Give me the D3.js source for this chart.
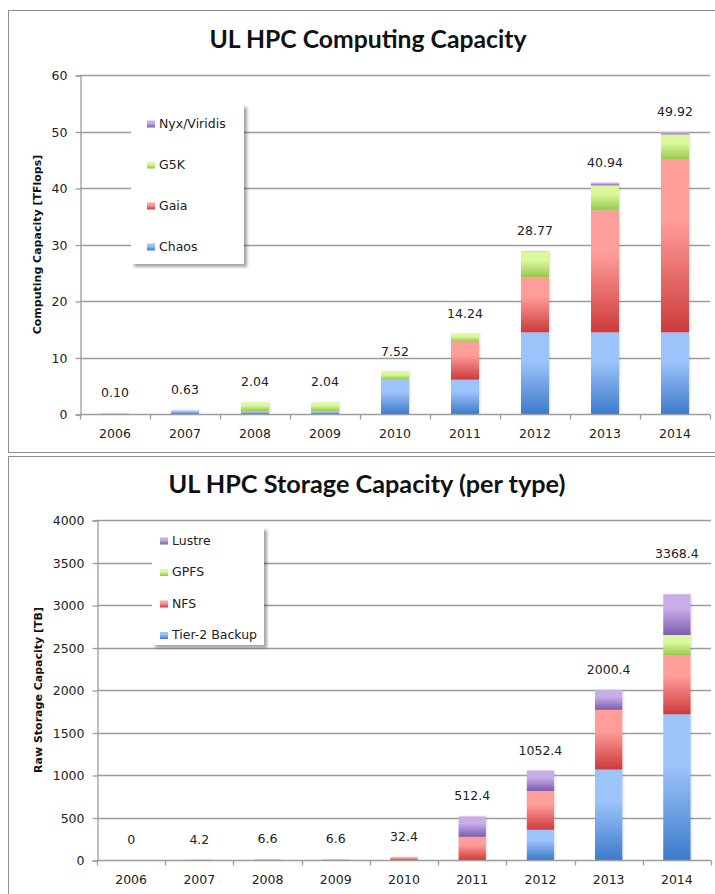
<!DOCTYPE html>
<html>
<head>
<meta charset="utf-8">
<script src="https://cdn.jsdelivr.net/npm/d3@7"></script>
<style>
  body { margin: 0; background: #fff; }
  svg { display: block; }
</style>
</head>
<body>
<svg id="chart" width="715" height="894"></svg>
<script>
// ---- Data -------------------------------------------------------------
const years = ["2006", "2007", "2008", "2009", "2010", "2011", "2012", "2013", "2014"];

// Computing capacity per cluster [TFlops]
const chaos = [0.10, 0.63, 0.50, 0.50, 6.08, 6.08, 14.45, 14.45, 14.45];
const gaia  = [0, 0, 0, 0, 0, 6.72, 9.78, 21.60, 30.55];
const g5k   = [0, 0, 1.54, 1.54, 1.44, 1.44, 4.44, 4.42, 4.50];
const nyx   = [0, 0, 0, 0, 0, 0, 0.10, 0.47, 0.42];
const computeTotals = [0.10, 0.63, 2.04, 2.04, 7.52, 14.24, 28.77, 40.94, 49.92];
const computeTotalLabels = ["0.10", "0.63", "2.04", "2.04", "7.52", "14.24", "28.77", "40.94", "49.92"];
const computeTicks = [0, 10, 20, 30, 40, 50, 60];

// Raw storage capacity per type [TB]
const tier2  = [0, 0, 0, 0, 0, 0, 356, 1064, 1714];
const nfs    = [0, 4.2, 6.6, 6.6, 32.4, 272.4, 456.4, 702.4, 690];
const gpfs   = [0, 0, 0, 0, 0, 0, 0, 0, 243];
const lustre = [0, 0, 0, 0, 0, 240, 240, 234, 479];
const storageTotals = [0, 4.2, 6.6, 6.6, 32.4, 512.4, 1052.4, 2000.4, 3368.4];
const storageTotalLabels = ["0", "4.2", "6.6", "6.6", "32.4", "512.4", "1052.4", "2000.4", "3368.4"];
const storageTicks = [0, 500, 1000, 1500, 2000, 2500, 3000, 3500, 4000];

// ---- Shared styling ---------------------------------------------------
const palette = {
  blue:   ["#9dc3fb", "#3c7bcb"],
  red:    ["#ff9d9a", "#cc3b3a"],
  green:  ["#dbf89d", "#96c74b"],
  purple: ["#c9ade9", "#7c5cad"]
};

const svg = d3.select("#chart");
const defs = svg.append("defs");

Object.entries(palette).forEach(([name, [light, dark]]) => {
  const g = defs.append("linearGradient")
    .attr("id", "grad-" + name)
    .attr("x1", 0).attr("y1", 0).attr("x2", 0).attr("y2", 1);
  g.append("stop").attr("offset", "0%").attr("stop-color", light);
  g.append("stop").attr("offset", "35%").attr("stop-color", light);
  g.append("stop").attr("offset", "100%").attr("stop-color", dark);
});

const legendShadow = defs.append("filter").attr("id", "legend-shadow")
  .attr("x", "-10%").attr("y", "-10%").attr("width", "130%").attr("height", "130%");
legendShadow.append("feDropShadow")
  .attr("dx", 3).attr("dy", 3).attr("stdDeviation", 1.8)
  .attr("flood-color", "#000").attr("flood-opacity", 0.35);

const barShadow = defs.append("filter").attr("id", "bar-shadow")
  .attr("x", "-30%").attr("y", "-5%").attr("width", "160%").attr("height", "110%");
barShadow.append("feDropShadow")
  .attr("dx", 1).attr("dy", 0).attr("stdDeviation", 0.8)
  .attr("flood-color", "#000").attr("flood-opacity", 0.15);

const textFont = "'DejaVu Sans', Verdana, sans-serif";
const titleFont = "Lato, 'Open Sans', sans-serif";
const labelSize = 12.5;

// ---- Chart drawing ----------------------------------------------------
function drawChart(cfg) {
  const g = svg.append("g");

  // outer frame
  g.append("rect")
    .attr("x", cfg.frame[0] + 0.5).attr("y", cfg.frame[1] + 0.5)
    .attr("width", cfg.frame[2]).attr("height", cfg.frame[3])
    .attr("fill", "#fff").attr("stroke", "#8e8e8e").attr("stroke-width", 1);

  // title, fitted to its measured width
  const title = g.append("text")
    .attr("x", cfg.titleX).attr("y", cfg.titleY)
    .attr("text-anchor", "middle")
    .attr("font-family", titleFont).attr("font-weight", 700)
    .attr("font-size", 25).attr("fill", "#111")
    .text(cfg.title);
  const w = title.node().getComputedTextLength();
  title.attr("font-size", 25 * cfg.titleWidth / w);

  const x = d3.scaleBand().domain(years)
    .range([cfg.left, cfg.right]).paddingInner(0.6).paddingOuter(0.3);
  const y = d3.scaleLinear().domain([0, d3.max(cfg.ticks)])
    .range([cfg.bottom, cfg.top]);

  // horizontal gridlines
  g.append("g").selectAll("line").data(cfg.ticks.filter(t => t > 0)).join("line")
    .attr("x1", cfg.left).attr("x2", cfg.right)
    .attr("y1", d => Math.round(y(d)) + 0.5).attr("y2", d => Math.round(y(d)) + 0.5)
    .attr("stroke", "#9c9c9c").attr("stroke-width", 1.3);

  // y axis
  const yAxis = g.append("g")
    .attr("transform", `translate(${cfg.left + 0.5},0.5)`)
    .call(d3.axisLeft(y).tickValues(cfg.ticks).tickSize(5).tickPadding(8)
      .tickFormat(d3.format("d")));
  yAxis.select(".domain").attr("stroke", "#9c9c9c").attr("stroke-width", 1.3);
  yAxis.selectAll(".tick line").attr("stroke", "#9c9c9c").attr("stroke-width", 1.3);
  yAxis.selectAll(".tick text")
    .attr("font-family", textFont).attr("font-size", labelSize).attr("fill", "#222");

  // y axis title
  g.append("text")
    .attr("transform", `translate(${cfg.axisTitleX},${(cfg.top + cfg.bottom) / 2}) rotate(-90)`)
    .attr("text-anchor", "middle").attr("dominant-baseline", "middle")
    .attr("font-family", textFont).attr("font-weight", 700).attr("font-size", 11)
    .attr("fill", "#111")
    .text(cfg.yLabel);

  // stacked bars
  const rows = years.map((yr, i) => {
    const r = { year: yr };
    cfg.series.forEach(s => { r[s.key] = s.values[i]; });
    return r;
  });
  const stack = d3.stack().keys(cfg.series.map(s => s.key))(rows);
  const bars = g.append("g").attr("filter", "url(#bar-shadow)");
  stack.forEach((layer, li) => {
    const s = cfg.series[li];
    bars.append("g").selectAll("rect").data(layer.filter(d => d[1] - d[0] > 0)).join("rect")
      .attr("x", d => x(d.data.year))
      .attr("width", x.bandwidth())
      .attr("y", d => y(d[1]))
      .attr("height", d => y(d[0]) - y(d[1]))
      .attr("fill", `url(#grad-${s.color})`);
  });

  // x axis: labels centred in bands, ticks at band boundaries
  const xAxis = g.append("g")
    .attr("transform", `translate(0,${cfg.bottom + 0.5})`);
  xAxis.append("line")
    .attr("x1", cfg.left).attr("x2", cfg.right)
    .attr("stroke", "#9c9c9c").attr("stroke-width", 1.3);
  const bounds = d3.range(years.length + 1).map(i => cfg.left + i * x.step());
  xAxis.selectAll(".bound").data(bounds).join("line")
    .attr("class", "bound")
    .attr("x1", d => Math.round(d) + 0.5).attr("x2", d => Math.round(d) + 0.5)
    .attr("y1", 0).attr("y2", 5)
    .attr("stroke", "#9c9c9c").attr("stroke-width", 1.3);
  xAxis.selectAll(".lbl").data(years).join("text")
    .attr("class", "lbl")
    .attr("x", d => x(d) + x.bandwidth() / 2)
    .attr("y", 20).attr("dominant-baseline", "middle")
    .attr("text-anchor", "middle")
    .attr("font-family", textFont).attr("font-size", labelSize).attr("fill", "#222")
    .text(d => d);

  // total labels above each bar
  g.append("g").selectAll("text").data(years).join("text")
    .attr("x", d => x(d) + x.bandwidth() / 2)
    .attr("y", (d, i) => y(cfg.totals[i]) - 19.5)
    .attr("dominant-baseline", "middle").attr("text-anchor", "middle")
    .attr("font-family", textFont).attr("font-size", labelSize).attr("fill", "#222")
    .text((d, i) => cfg.totalLabels[i]);

  // legend (series listed top to bottom in reverse stacking order)
  const lg = g.append("g");
  lg.append("rect")
    .attr("x", cfg.legend.x).attr("y", cfg.legend.y)
    .attr("width", cfg.legend.w).attr("height", cfg.legend.h)
    .attr("fill", "#fff").attr("filter", "url(#legend-shadow)");
  const items = cfg.series.slice().reverse();
  items.forEach((s, i) => {
    const cy = cfg.legend.firstY + i * cfg.legend.step;
    lg.append("rect")
      .attr("x", cfg.legend.swatchX).attr("y", cy - 3.5)
      .attr("width", 8).attr("height", 7)
      .attr("fill", `url(#grad-${s.color})`);
    lg.append("text")
      .attr("x", cfg.legend.swatchX + 12).attr("y", cy)
      .attr("dominant-baseline", "middle")
      .attr("font-family", textFont).attr("font-size", labelSize).attr("fill", "#222")
      .text(s.name);
  });
}

drawChart({
  frame: [8, 10, 720, 442],
  title: "UL HPC Computing Capacity",
  titleX: 368, titleY: 48, titleWidth: 317,
  left: 80, right: 710, top: 75, bottom: 414,
  ticks: computeTicks,
  yLabel: "Computing Capacity  [TFlops]",
  axisTitleX: 38,
  series: [
    { key: "chaos", name: "Chaos", values: chaos, color: "blue" },
    { key: "gaia", name: "Gaia", values: gaia, color: "red" },
    { key: "g5k", name: "G5K", values: g5k, color: "green" },
    { key: "nyx", name: "Nyx/Viridis", values: nyx, color: "purple" }
  ],
  totals: computeTotals,
  totalLabels: computeTotalLabels,
  legend: { x: 131, y: 104, w: 113, h: 160, firstY: 124, step: 41, swatchX: 147 }
});

drawChart({
  frame: [8, 456, 720, 450],
  title: "UL HPC Storage Capacity (per type)",
  titleX: 367, titleY: 493, titleWidth: 397,
  left: 97, right: 711, top: 520, bottom: 860,
  ticks: storageTicks,
  yLabel: "Raw Storage Capacity  [TB]",
  axisTitleX: 39,
  series: [
    { key: "tier2", name: "Tier-2 Backup", values: tier2, color: "blue" },
    { key: "nfs", name: "NFS", values: nfs, color: "red" },
    { key: "gpfs", name: "GPFS", values: gpfs, color: "green" },
    { key: "lustre", name: "Lustre", values: lustre, color: "purple" }
  ],
  totals: storageTotals,
  totalLabels: storageTotalLabels,
  legend: { x: 152, y: 527, w: 112, h: 118, firstY: 541, step: 31.5, swatchX: 160 }
});
</script>
</body>
</html>
